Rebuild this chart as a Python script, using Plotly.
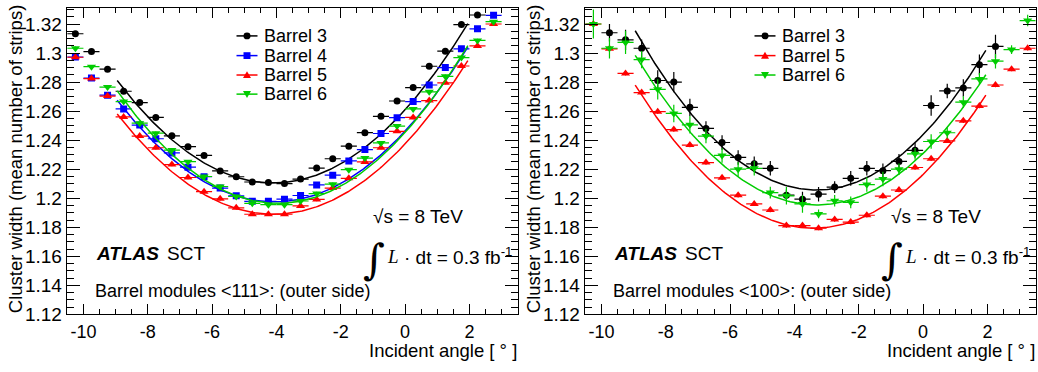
import numpy as np
import plotly.graph_objects as go

# ---------------- data ----------------
bin_half_width = 0.25

# Left panel: <111> modules
L_b3_x = [-10.25, -9.75, -9.25, -8.75, -8.25, -7.75, -7.25, -6.75, -6.25, -5.75, -5.25, -4.75, -4.25,
          -3.75, -3.25, -2.75, -2.25, -1.75, -1.25, -0.75, -0.25, 0.25, 0.75, 1.25, 1.75, 2.25]
L_b3_y = [1.3133, 1.3010, 1.2889, 1.2737, 1.2659, 1.2557, 1.2430, 1.2355, 1.2295, 1.2188, 1.2148, 1.2112, 1.2108,
          1.2101, 1.2132, 1.2208, 1.2272, 1.2359, 1.2452, 1.2564, 1.2670, 1.2762, 1.2909, 1.3013, 1.3196, 1.3262]

L_x27 = [-10.25, -9.75, -9.25, -8.75, -8.25, -7.75, -7.25, -6.75, -6.25, -5.75, -5.25, -4.75, -4.25,
         -3.75, -3.25, -2.75, -2.25, -1.75, -1.25, -0.75, -0.25, 0.25, 0.75, 1.25, 1.75, 2.25, 2.75]
L_b4_y = [1.2973, 1.2828, 1.2710, 1.2615, 1.2504, 1.2410, 1.2312, 1.2214, 1.2148, 1.2070, 1.2017, 1.1979, 1.1979,
          1.1994, 1.2019, 1.2092, 1.2159, 1.2257, 1.2335, 1.2446, 1.2555, 1.2666, 1.2780, 1.2900, 1.3029, 1.3167, 1.3260]
L_b5_y = [1.2971, 1.2824, 1.2704, 1.2560, 1.2428, 1.2348, 1.2232, 1.2143, 1.2045, 1.1996, 1.1934, 1.1890, 1.1890,
          1.1890, 1.1947, 1.1992, 1.2070, 1.2137, 1.2250, 1.2348, 1.2461, 1.2557, 1.2673, 1.2795, 1.2911, 1.3049, 1.3200]
L_b6_y = [1.3033, 1.2906, 1.2766, 1.2666, 1.2517, 1.2448, 1.2332, 1.2252, 1.2150, 1.2081, 1.2012, 1.1965, 1.1956,
          1.1956, 1.1981, 1.2032, 1.2097, 1.2197, 1.2277, 1.2381, 1.2497, 1.2615, 1.2733, 1.2840, 1.2969, 1.3087, 1.3216]
L_err = 0.0012

# Right panel: <100> modules
R_b3_x = [-9.75, -9.25, -8.75, -8.25, -7.75, -7.25, -6.75, -6.25, -5.75, -5.25, -4.75, -4.25,
          -3.75, -3.25, -2.75, -2.25, -1.75, -1.25, -0.75, -0.25, 0.25, 0.75, 1.25, 1.75, 2.25]
R_b3_y = [1.3140, 1.3091, 1.3033, 1.2811, 1.2800, 1.2626, 1.2481, 1.2384, 1.2281, 1.2237, 1.2206, 1.2021,
          1.1994, 1.2028, 1.2077, 1.2137, 1.2206, 1.2190, 1.2254, 1.2330, 1.2639, 1.2739, 1.2760, 1.2920, 1.3046]
R_b3_e = [0.006, 0.007, 0.006, 0.007, 0.007, 0.006, 0.005, 0.005, 0.005, 0.005, 0.005, 0.004,
          0.005, 0.005, 0.004, 0.005, 0.005, 0.005, 0.005, 0.005, 0.007, 0.005, 0.006, 0.007, 0.008]

R_x28 = [-10.25, -9.75, -9.25, -8.75, -8.25, -7.75, -7.25, -6.75, -6.25, -5.75, -5.25, -4.75, -4.25, -3.75,
         -3.25, -2.75, -2.25, -1.75, -1.25, -0.75, -0.25, 0.25, 0.75, 1.25, 1.75, 2.25, 2.75, 3.25]
R_b5_y = [1.3200, 1.3029, 1.2860, 1.2728, 1.2596, 1.2473, 1.2366, 1.2246, 1.2141, 1.2021, 1.1961, 1.1919, 1.1812, 1.1812,
          1.1794, 1.1854, 1.1836, 1.1883, 1.2014, 1.2057, 1.2212, 1.2272, 1.2395, 1.2533, 1.2635, 1.2780, 1.2889, 1.3033]
R_b5_e = 0.0015
R_b6_y = [1.3200, 1.3033, 1.3073, 1.2955, 1.2750, 1.2584, 1.2506, 1.2428, 1.2295, 1.2200, 1.2206, 1.2039, 1.2017, 1.1961,
          1.1892, 1.1983, 1.1972, 1.2094, 1.2132, 1.2200, 1.2306, 1.2391, 1.2451, 1.2662, 1.2822, 1.2944, 1.3024, 1.3224]
R_b6_e = [0.010, 0.007, 0.008, 0.006, 0.007, 0.006, 0.006, 0.005, 0.005, 0.005, 0.005, 0.004, 0.006, 0.006,
          0.003, 0.004, 0.004, 0.005, 0.005, 0.004, 0.004, 0.005, 0.004, 0.004, 0.004, 0.005, 0.003, 0.004]

# Parabolic fits y = min + curv * (x - vertex)^2, parameters
fit_range = [-8.95, 1.95]
fit_vertex = {"L3": -4.10, "L4": -4.07, "L5": -4.08, "L6": -3.96, "R3": -3.32, "R5": -3.40, "R6": -3.31}
fit_min = {"L3": 1.2105, "L4": 1.1975, "L5": 1.1890, "L6": 1.1965, "R3": 1.2057, "R5": 1.1794, "R6": 1.1954}
fit_curv = {"L3": 0.00300, "L4": 0.00294, "L5": 0.00291, "L6": 0.00311, "R3": 0.00346, "R5": 0.00320, "R6": 0.00324}

x_tickvals = [-10, -8, -6, -4, -2, 0, 2]
x_ticktext = ["-10", "-8", "-6", "-4", "-2", "0", "2"]
y_tickvals = [1.12, 1.14, 1.16, 1.18, 1.20, 1.22, 1.24, 1.26, 1.28, 1.30, 1.32]
y_ticktext = ["1.12", "1.14", "1.16", "1.18", "1.2", "1.22", "1.24", "1.26", "1.28", "1.3", "1.32"]

left_legend = ["Barrel 3", "Barrel 4", "Barrel 5", "Barrel 6"]
right_legend = ["Barrel 3", "Barrel 5", "Barrel 6"]

# ---------------- styling ----------------
BLACK, BLUE, RED, GREEN = "#000000", "#0000ff", "#ff0000", "#00cc00"
STYLE = {"Barrel 3": (BLACK, "circle", 7), "Barrel 4": (BLUE, "square", 7),
         "Barrel 5": (RED, "triangle-up", 8), "Barrel 6": (GREEN, "triangle-down", 8)}
FONT = "Liberation Sans, Arial, Helvetica, sans-serif"
W, H = 1038, 372

fig = go.Figure()


def add_series(x, y, err, name, key, xa, ya):
    color, symbol, size = STYLE[name]
    ex = [bin_half_width] * len(x)
    ey = err if isinstance(err, list) else [err] * len(x)
    fig.add_trace(go.Scatter(
        x=x, y=y, mode="markers", xaxis=xa, yaxis=ya, showlegend=False, name=name,
        marker=dict(color=color, symbol=symbol, size=size),
        error_x=dict(type="data", array=ex, color=color, thickness=1.2, width=0),
        error_y=dict(type="data", array=ey, color=color, thickness=1.2, width=0),
    ))
    xf = np.linspace(fit_range[0], fit_range[1], 200)
    yf = fit_min[key] + fit_curv[key] * (xf - fit_vertex[key]) ** 2
    fig.add_trace(go.Scatter(x=xf, y=yf, mode="lines", xaxis=xa, yaxis=ya, name=name + " fit",
                             showlegend=False, line=dict(color=color, width=1.5), hoverinfo="skip"))


add_series(L_b3_x, L_b3_y, L_err, "Barrel 3", "L3", "x", "y")
add_series(L_x27, L_b4_y, L_err, "Barrel 4", "L4", "x", "y")
add_series(L_x27, L_b5_y, L_err, "Barrel 5", "L5", "x", "y")
add_series(L_x27, L_b6_y, L_err, "Barrel 6", "L6", "x", "y")

add_series(R_b3_x, R_b3_y, R_b3_e, "Barrel 3", "R3", "x2", "y2")
add_series(R_x28, R_b5_y, R_b5_e, "Barrel 5", "R5", "x2", "y2")
add_series(R_x28, R_b6_y, R_b6_e, "Barrel 6", "R6", "x2", "y2")

top_px, bot_px = 8.3, 324.0
ydom = [1 - bot_px / H, 1 - top_px / H]
left_dom = [66.7 / W, 517.7 / W]
right_dom = [584.7 / W, 1035.7 / W]

xax = dict(range=[-10.52, 3.5], tickvals=x_tickvals, ticktext=x_ticktext, ticks="inside", ticklen=10,
           tickwidth=1, tickcolor="black", showline=True, linecolor="black", linewidth=1, mirror="allticks",
           showgrid=False, zeroline=False, tickfont=dict(family=FONT, size=18, color="black"),
           ticklabelstandoff=1,
           minor=dict(dtick=0.5, tick0=0, ticks="inside", ticklen=5, tickcolor="black", tickwidth=1, showgrid=False))
yax = dict(range=[1.12, 1.331], tickvals=y_tickvals, ticktext=y_ticktext, ticks="inside", ticklen=13,
           tickwidth=1, tickcolor="black", showline=True, linecolor="black", linewidth=1, mirror="allticks",
           showgrid=False, zeroline=False, tickfont=dict(family=FONT, size=19, color="black"),
           minor=dict(dtick=0.005, tick0=1.12, ticks="inside", ticklen=7, tickcolor="black", tickwidth=1, showgrid=False))

fig.update_layout(
    width=W, height=H, margin=dict(l=0, r=0, t=0, b=0),
    paper_bgcolor="white", plot_bgcolor="white",
    font=dict(family=FONT, size=18, color="black"),
    showlegend=False,
    xaxis=dict(domain=left_dom, anchor="y", **xax),
    yaxis=dict(domain=ydom, anchor="x", **yax),
    xaxis2=dict(domain=right_dom, anchor="y2", **xax),
    yaxis2=dict(domain=ydom, anchor="x2", **yax),
)

ann = []
shapes = []


def px_x(v):
    return v / W


def px_y(v):
    return 1 - v / H


def legend_symbol(cx, cy, name):
    color, symbol, size = STYLE[name]
    shapes.append(dict(type="line", xref="paper", yref="paper", x0=px_x(cx - 10.5), x1=px_x(cx + 10.5),
                       y0=px_y(cy), y1=px_y(cy), line=dict(color=color, width=1.5)))
    r = size / 2.0
    if symbol == "circle":
        shapes.append(dict(type="circle", xref="paper", yref="paper", x0=px_x(cx - r), x1=px_x(cx + r),
                           y0=px_y(cy + r), y1=px_y(cy - r), fillcolor=color, line=dict(color=color, width=0)))
    elif symbol == "square":
        shapes.append(dict(type="rect", xref="paper", yref="paper", x0=px_x(cx - r), x1=px_x(cx + r),
                           y0=px_y(cy + r), y1=px_y(cy - r), fillcolor=color, line=dict(color=color, width=0)))
    else:
        s = 1 if symbol == "triangle-up" else -1
        p = "M {:.5f},{:.5f} L {:.5f},{:.5f} L {:.5f},{:.5f} Z".format(
            px_x(cx), px_y(cy - s * r), px_x(cx - r), px_y(cy + s * r * 0.8), px_x(cx + r), px_y(cy + s * r * 0.8))
        shapes.append(dict(type="path", xref="paper", yref="paper", path=p, fillcolor=color,
                           line=dict(color=color, width=0)))


for off, label, legend in [(0, "Barrel modules <111>: (outer side)", left_legend),
                           (518, "Barrel modules <100>: (outer side)", right_legend)]:
    def A(px, py, text, size=18, family=FONT, xanchor="left", yanchor="middle", angle=0, pad=1):
        ann.append(dict(x=(px + off) / W, y=1 - py / H, xref="paper", yref="paper", text=text,
                        showarrow=False, xanchor=xanchor, yanchor=yanchor, textangle=angle, borderpad=pad,
                        font=dict(family=family, size=size, color="black")))
    legend_rows = [37, 57.3, 77.3, 97]
    for i, name in enumerate(legend):
        legend_symbol(247 + off, legend_rows[i], name)
        A(262, legend_rows[i], name, size=18)
    A(94, 261, "<b><i>ATLAS</i></b>", size=19)
    A(165, 261, "SCT", size=19)
    A(93, 300, label, size=18)
    A(371, 223, "√s = 8 TeV", size=19)
    A(361, 267, "∫", size=42, family="DejaVu Serif, serif")
    A(385, 264, "<i>L</i>", size=19, family="Liberation Serif, Times New Roman, serif")
    A(402, 264, "· dt = 0.3 fb<sup>-1</sup>", size=19)
    A(518, 349, "Incident angle [ ° ]", size=18.5, xanchor="right", yanchor="top", pad=0)
    ann.append(dict(x=(15 + off) / W, y=1 - 164 / H, xref="paper", yref="paper",
                    text="Cluster width (mean number of strips)", showarrow=False, textangle=-90,
                    xanchor="center", yanchor="middle", font=dict(family=FONT, size=18.5, color="black")))
fig.update_layout(annotations=ann, shapes=shapes)

fig.write_html("out.html")
